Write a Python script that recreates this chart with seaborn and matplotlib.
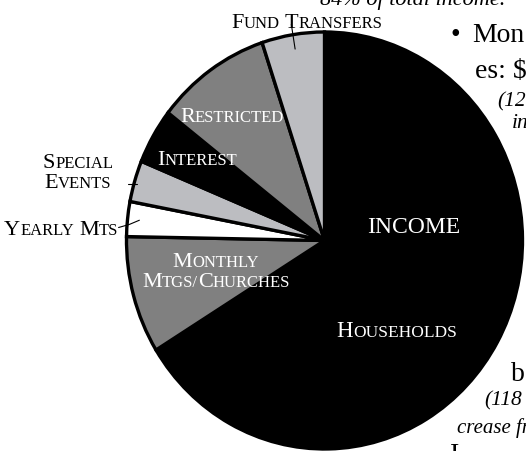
import re
import numpy as np
import matplotlib
matplotlib.use("Agg")
import matplotlib.pyplot as plt
import seaborn as sns
from matplotlib.offsetbox import TextArea, HPacker, VPacker, AnnotationBbox

# Income shares (percent), clockwise from 12 o'clock
categories = ["Households", "Monthly Mtgs/Churches", "Yearly Mts", "Special Events",
              "Interest", "Restricted", "Fund Transfers"]
shares = [66.2, 9.1, 2.7, 3.2, 4.3, 9.4, 5.1]
colors = ["#000000", "#808080", "#ffffff", "#bcbdc1", "#000000", "#808080", "#bcbdc1"]

sns.set_style("white")
plt.rcParams["font.family"] = ["Liberation Serif", "DejaVu Serif"]

W, H = 526, 452
CX, CY, RX, RY = 324.5, 241.5, 198, 208.5

fig = plt.figure(figsize=(W / 100, H / 100), dpi=100)
ax = fig.add_axes([0, 0, 1, 1])

ax.pie(shares, colors=colors, startangle=90, counterclock=False,
       wedgeprops=dict(edgecolor="black", linewidth=2.4))
ax.set_aspect("auto")
ax.set_xlim(-CX / RX, (W - CX) / RX)
ax.set_ylim(-(H - CY) / RY, CY / RY)
ax.set_axis_off()


def smallcaps(text, color, big=16, small=12):
    words = []
    for word in text.split(" "):
        runs = re.findall(r"[A-Z]+|[^A-Z]+", word)
        boxes = [TextArea(r.upper(), textprops=dict(color=color, size=big if r.isupper() else small))
                 for r in runs]
        words.append(HPacker(children=boxes, align="baseline", pad=0, sep=0))
    return HPacker(children=words, align="baseline", pad=0, sep=small * 0.3)


def place(box, x, y):
    # x = centre, y = bottom of box, both in pixels from top-left
    ab = AnnotationBbox(box, (x, H - y), xycoords="figure pixels",
                        box_alignment=(0.5, 0), frameon=False, pad=0)
    ax.add_artist(ab)


def two_lines(a, b, color):
    return VPacker(children=[smallcaps(a, color), smallcaps(b, color)],
                   align="center", pad=0, sep=1)


place(smallcaps("Fund Transfers", "black"), 307, 33)
place(smallcaps("Restricted", "white"), 232, 127)
place(smallcaps("Interest", "white"), 197, 170)
place(two_lines("Special", "Events", "black"), 78, 193)
place(smallcaps("Yearly Mts", "black"), 61, 240)
place(two_lines("Monthly", "Mtgs/Churches", "white"), 216, 292)
place(smallcaps("Households", "white", 16.5, 12.5), 397, 342)
fig.text(414 / W, 1 - 233 / H, "INCOME", color="white", size=17, ha="center", va="baseline")

# leader lines from wedge middles
bounds = 90 - np.cumsum([0] + shares) * 3.6
mids = np.radians((bounds[:-1] + bounds[1:]) / 2)


def on_pie(i, r):
    return r * np.cos(mids[i]), r * np.sin(mids[i])


x0, y0 = on_pie(6, 0.93)
x1, y1 = on_pie(6, 1.05)
ax.plot([x0, x1], [y0, y1], color="black", lw=0.8)
x0, y0 = on_pie(3, 0.99)
ax.plot([x0, x0 - 0.045], [y0 - 0.01, y0 - 0.01], color="black", lw=0.8)
x0, y0 = on_pie(2, 0.94)
ax.plot([x0, x0 - 0.05, x0 - 0.105], [y0, y0 - 0.02, y0 - 0.035], color="black", lw=0.8)

# surrounding page text
page = [
    (320, 5, "84% of total income.", "italic", 16),
    (450, 42, "\u2022", "normal", 20),
    (472, 42, "Mon", "normal", 20),
    (475, 78, "es: $", "normal", 20),
    (497, 106, "(12", "italic", 15.5),
    (512, 128, "in", "italic", 15.5),
    (511, 381, "b", "normal", 20),
    (484, 405, "(118", "italic", 15.5),
    (457, 433, "crease fr", "italic", 15),
    (450, 462, "I", "normal", 20),
]
for x, y, s, st, sz in page:
    fig.text(x / W, 1 - y / H, s, style=st, size=sz, ha="left", va="baseline", color="black")

fig.savefig("out.png", dpi=100)
